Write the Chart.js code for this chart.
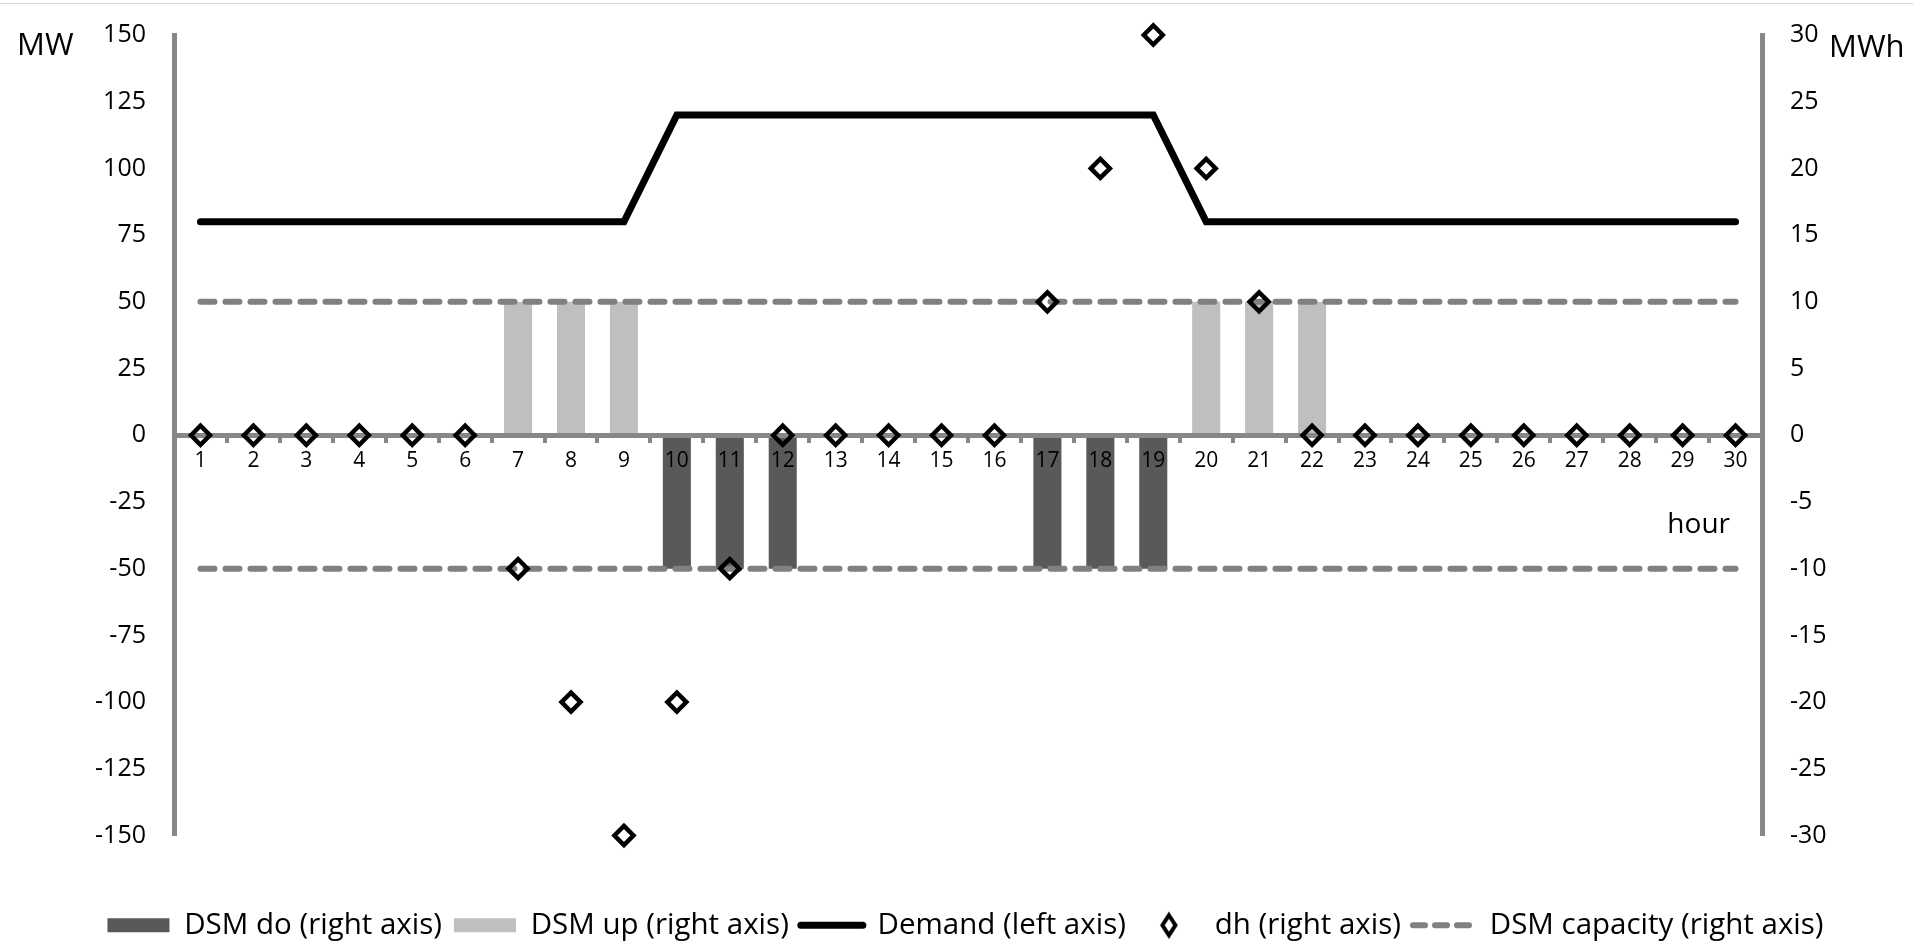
<!DOCTYPE html>
<html>
<head>
<meta charset="utf-8">
<script src="https://cdn.jsdelivr.net/npm/chart.js@4.4.1/dist/chart.umd.min.js"></script>
<style>
html, body { margin: 0; padding: 0; background: #ffffff; overflow: hidden; }
#wrap { position: relative; width: 1913px; height: 941px; }
#topline { position: absolute; left: 0; top: 3px; width: 1913px; height: 1px; background: #d4d4d4; }
</style>
</head>
<body>
<div id="wrap"><canvas id="c"></canvas><div id="topline"></div></div>
<script>
// ---------------- data ----------------
const hours = ['1','2','3','4','5','6','7','8','9','10','11','12','13','14','15',
               '16','17','18','19','20','21','22','23','24','25','26','27','28','29','30'];
const demand = [80,80,80,80,80,80,80,80,80,120,120,120,120,120,120,120,120,120,120,
                80,80,80,80,80,80,80,80,80,80,80];
const dsmDown = [null,null,null,null,null,null,null,null,null,-10,-10,-10,null,null,null,
                 null,-10,-10,-10,null,null,null,null,null,null,null,null,null,null,null];
const dsmUp = [null,null,null,null,null,null,10,10,10,null,null,null,null,null,null,
               null,null,null,null,10,10,10,null,null,null,null,null,null,null,null];
const dh = [0,0,0,0,0,0,-10,-20,-30,-20,-10,0,0,0,0,0,10,20,30,20,10,0,0,0,0,0,0,0,0,0];
const capacityUpper = [10,10,10,10,10,10,10,10,10,10,10,10,10,10,10,
                       10,10,10,10,10,10,10,10,10,10,10,10,10,10,10];
const capacityLower = [-10,-10,-10,-10,-10,-10,-10,-10,-10,-10,-10,-10,-10,-10,-10,
                       -10,-10,-10,-10,-10,-10,-10,-10,-10,-10,-10,-10,-10,-10,-10];
const leftRange = [-150, 150];
const leftStep = 25;
const rightRange = [-30, 30];
const rightStep = 5;
const seriesNames = ['DSM do (right axis)', 'DSM up (right axis)', 'Demand (left axis)',
                     'dh (right axis)', 'DSM capacity (right axis)'];
const leftUnit = 'MW';
const rightUnit = 'MWh';
const xTitle = 'hour';

// ---------------- styling ----------------
const AXIS_GRAY = '#878787';
const DASH_GRAY = '#808080';
Chart.defaults.font.family = "'Open Sans', sans-serif";
Chart.defaults.color = '#000';

function diamondImage() {
  const c = document.createElement('canvas');
  c.width = 26; c.height = 30;
  const g = c.getContext('2d');
  g.strokeStyle = '#000';
  g.lineWidth = 4;
  g.lineJoin = 'miter';
  g.beginPath();
  g.moveTo(13, 5); g.lineTo(19.5, 15); g.lineTo(13, 25); g.lineTo(6.5, 15);
  g.closePath();
  g.stroke();
  return c;
}
const legendDiamond = diamondImage();

const DH_INDEX = 3;

const overlay = {
  id: 'overlay',
  beforeDatasetDraw(chart, args) {
    if (args.index === DH_INDEX) return false;
  },
  afterDraw(chart) {
    const {ctx, chartArea, scales} = chart;
    // markers on top of axes
    const meta = chart.getDatasetMeta(DH_INDEX);
    ctx.save();
    meta.controller.draw();
    ctx.restore();
    // unit labels and axis title
    ctx.save();
    ctx.fillStyle = '#000';
    ctx.textBaseline = 'alphabetic';
    ctx.textAlign = 'left';
    ctx.font = "31px 'Open Sans'";
    ctx.fillText(leftUnit, chartArea.left - 157, chartArea.top + 20);
    ctx.fillText(rightUnit, chartArea.right + 67, chartArea.top + 22);
    ctx.font = "28px 'Open Sans'";
    ctx.textAlign = 'right';
    ctx.fillText(xTitle, chartArea.right - 32, scales.y.getPixelForValue(0) + 98);
    ctx.restore();
  }
};

const ctx = document.getElementById('c').getContext('2d');
new Chart(ctx, {
  type: 'bar',
  data: {
    labels: hours,
    datasets: [
      { type: 'bar', label: seriesNames[0], data: dsmDown, xAxisID: 'x', yAxisID: 'y2',
        backgroundColor: '#595959', grouped: false, barPercentage: 0.53, categoryPercentage: 1, order: 6 },
      { type: 'bar', label: seriesNames[1], data: dsmUp, xAxisID: 'x', yAxisID: 'y2',
        backgroundColor: '#BFBFBF', grouped: false, barPercentage: 0.53, categoryPercentage: 1, order: 5 },
      { type: 'line', label: seriesNames[2], data: demand, xAxisID: 'x', yAxisID: 'y',
        borderColor: '#000', backgroundColor: '#000', borderWidth: 7, pointRadius: 0, pointHoverRadius: 0,
        borderCapStyle: 'round', borderJoinStyle: 'miter', tension: 0, fill: false, order: 2 },
      { type: 'line', label: seriesNames[3], data: dh, xAxisID: 'x', yAxisID: 'y2',
        showLine: false, pointStyle: 'rectRot', pointRadius: 9.5, pointHoverRadius: 9.5,
        pointBorderWidth: 4.5, pointBorderColor: '#000', pointBackgroundColor: 'rgba(0,0,0,0)',
        clip: false, order: 1 },
      { type: 'line', label: seriesNames[4], data: capacityUpper, xAxisID: 'x', yAxisID: 'y2',
        borderColor: DASH_GRAY, backgroundColor: DASH_GRAY, borderWidth: 6, borderDash: [14, 11],
        borderCapStyle: 'round', pointRadius: 0, pointHoverRadius: 0, fill: false, order: 3 },
      { type: 'line', label: seriesNames[4] + ' lower', data: capacityLower, xAxisID: 'x', yAxisID: 'y2',
        borderColor: DASH_GRAY, backgroundColor: DASH_GRAY, borderWidth: 6, borderDash: [14, 11],
        borderCapStyle: 'round', pointRadius: 0, pointHoverRadius: 0, fill: false, order: 3,
        hideInLegend: true }
    ]
  },
  options: {
    responsive: true,
    maintainAspectRatio: false,
    animation: false,
    events: [],
    layout: { padding: { left: 18, right: 0, top: 35, bottom: -9 } },
    plugins: {
      tooltip: { enabled: false },
      legend: {
        position: 'bottom',
        labels: {
          usePointStyle: true,
          pointStyleWidth: 62,
          boxHeight: 14,
          padding: 12,
          color: '#000',
          font: { size: 29.5 },
          generateLabels(chart) {
            return chart.data.datasets.map((ds, i) => ({ ds, i }))
              .filter(o => !o.ds.hideInLegend)
              .map(({ ds, i }) => {
                const item = { text: ds.label, datasetIndex: i, hidden: false, fontColor: '#000' };
                if (ds.type === 'bar') {
                  Object.assign(item, { pointStyle: 'rect', fillStyle: ds.backgroundColor,
                    strokeStyle: ds.backgroundColor, lineWidth: 0 });
                } else if (ds.showLine === false) {
                  Object.assign(item, { pointStyle: legendDiamond, fillStyle: 'rgba(0,0,0,0)',
                    strokeStyle: '#000', lineWidth: 0 });
                } else {
                  Object.assign(item, { pointStyle: 'line', fillStyle: 'rgba(0,0,0,0)',
                    strokeStyle: ds.borderColor, lineWidth: ds.borderWidth,
                    lineDash: ds.borderDash ? [12, 10] : [], lineCap: 'round' });
                }
                return item;
              });
          }
        }
      }
    },
    scales: {
      x: {
        type: 'category',
        position: { y: 0 },
        offset: true,
        z: 1,
        grid: { offset: true, drawOnChartArea: false, drawTicks: true, tickLength: 5,
                color: AXIS_GRAY, lineWidth: 4 },
        border: { display: true, color: AXIS_GRAY, width: 5, z: 1 },
        ticks: { font: { size: 21 }, color: '#000', padding: 8, maxRotation: 0, autoSkip: false, z: 2 }
      },
      xGap: {
        type: 'category',
        position: 'bottom',
        grid: { display: false, drawTicks: false },
        border: { display: false },
        ticks: { display: false },
        afterFit(s) { s.height = 63; }
      },
      y: {
        position: 'left',
        min: leftRange[0], max: leftRange[1],
        ticks: { stepSize: leftStep, font: { size: 25 }, color: '#000', padding: 4 },
        grid: { display: true, drawOnChartArea: false, drawTicks: true, tickLength: 24,
                color: 'rgba(0,0,0,0)' },
        border: { display: true, color: AXIS_GRAY, width: 5 },
        afterFit(s) { s.width = 156; }
      },
      y2: {
        position: 'right',
        min: rightRange[0], max: rightRange[1],
        ticks: { stepSize: rightStep, font: { size: 25 }, color: '#000', padding: 4 },
        grid: { display: true, drawOnChartArea: false, drawTicks: true, tickLength: 24,
                color: 'rgba(0,0,0,0)' },
        border: { display: true, color: AXIS_GRAY, width: 5 },
        afterFit(s) { s.width = 151; }
      }
    }
  },
  plugins: [overlay]
});
</script>
</body>
</html>
